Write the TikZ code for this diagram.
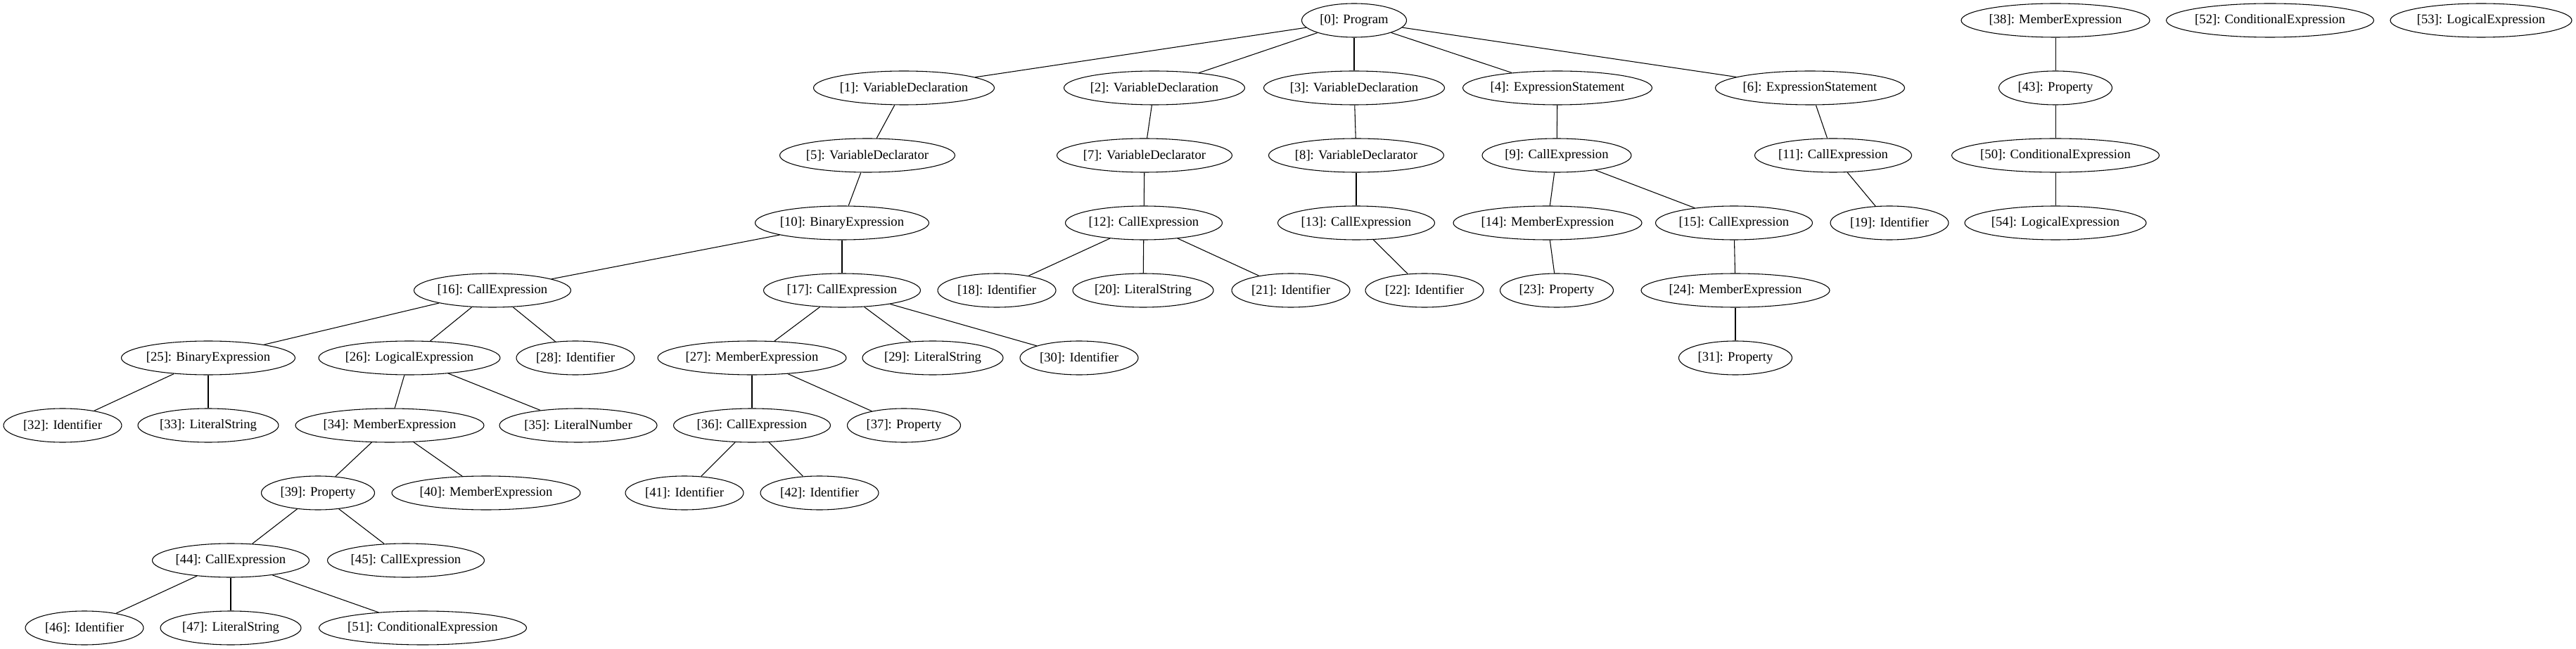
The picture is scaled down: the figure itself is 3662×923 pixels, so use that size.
\documentclass[tikz,border=0pt]{standalone}
\usepackage{fontspec}
\setmainfont{Liberation Serif}
\usetikzlibrary{shapes.geometric}
\begin{document}
\begin{tikzpicture}[x=0.75pt,y=-0.75pt,
  nd/.style={ellipse, draw, line width=0.8pt, minimum height=36pt, inner xsep=-20pt, inner ysep=0pt,
    minimum width=#1*0.75pt, font=\fontsize{14}{16}\selectfont},
  ed/.style={line width=0.8pt}]
\useasboundingbox (0,0) rectangle (3662,923);
% row 0
\node[nd=149] (n0) at (1925,29) {[0]: Program};
\node[nd=268] (n38) at (2922,29) {[38]: MemberExpression};
\node[nd=295] (n52) at (3227,29) {[52]: ConditionalExpression};
\node[nd=258] (n53) at (3527,29) {[53]: LogicalExpression};
% row 1
\node[nd=257] (n1) at (1285,125) {[1]: VariableDeclaration};
\node[nd=257] (n2) at (1641,125) {[2]: VariableDeclaration};
\node[nd=257] (n3) at (1925,125) {[3]: VariableDeclaration};
\node[nd=269] (n4) at (2214,125) {[4]: ExpressionStatement};
\node[nd=269] (n6) at (2573,125) {[6]: ExpressionStatement};
\node[nd=161] (n43) at (2922,125) {[43]: Property};
% row 2
\node[nd=249] (n5) at (1233,221) {[5]: VariableDeclarator};
\node[nd=249] (n7) at (1627,221) {[7]: VariableDeclarator};
\node[nd=249] (n8) at (1928,221) {[8]: VariableDeclarator};
\node[nd=212] (n9) at (2213,221) {[9]: CallExpression};
\node[nd=223] (n11) at (2606,221) {[11]: CallExpression};
\node[nd=295] (n50) at (2922,221) {[50]: ConditionalExpression};
% row 3
\node[nd=247] (n10) at (1197,317) {[10]: BinaryExpression};
\node[nd=223] (n12) at (1626,317) {[12]: CallExpression};
\node[nd=223] (n13) at (1928,317) {[13]: CallExpression};
\node[nd=268] (n14) at (2200,317) {[14]: MemberExpression};
\node[nd=223] (n15) at (2465,317) {[15]: CallExpression};
\node[nd=168] (n19) at (2686,317) {[19]: Identifier};
\node[nd=258] (n54) at (2922,317) {[54]: LogicalExpression};
% row 4
\node[nd=223] (n16) at (700,413) {[16]: CallExpression};
\node[nd=223] (n17) at (1197,413) {[17]: CallExpression};
\node[nd=168] (n18) at (1417,413) {[18]: Identifier};
\node[nd=200] (n20) at (1625,413) {[20]: LiteralString};
\node[nd=168] (n21) at (1835,413) {[21]: Identifier};
\node[nd=168] (n22) at (2025,413) {[22]: Identifier};
\node[nd=161] (n23) at (2213,413) {[23]: Property};
\node[nd=268] (n24) at (2467,413) {[24]: MemberExpression};
% row 5
\node[nd=247] (n25) at (296,509) {[25]: BinaryExpression};
\node[nd=258] (n26) at (582,509) {[26]: LogicalExpression};
\node[nd=168] (n28) at (818,509) {[28]: Identifier};
\node[nd=268] (n27) at (1069,509) {[27]: MemberExpression};
\node[nd=200] (n29) at (1326,509) {[29]: LiteralString};
\node[nd=168] (n30) at (1534,509) {[30]: Identifier};
\node[nd=161] (n31) at (2467,509) {[31]: Property};
% row 6
\node[nd=168] (n32) at (89,605) {[32]: Identifier};
\node[nd=200] (n33) at (296,605) {[33]: LiteralString};
\node[nd=268] (n34) at (554,605) {[34]: MemberExpression};
\node[nd=224] (n35) at (822,605) {[35]: LiteralNumber};
\node[nd=223] (n36) at (1069,605) {[36]: CallExpression};
\node[nd=161] (n37) at (1285,605) {[37]: Property};
% row 7
\node[nd=161] (n39) at (452,701) {[39]: Property};
\node[nd=268] (n40) at (691,701) {[40]: MemberExpression};
\node[nd=168] (n41) at (973,701) {[41]: Identifier};
\node[nd=168] (n42) at (1165,701) {[42]: Identifier};
% row 8
\node[nd=223] (n44) at (328,797) {[44]: CallExpression};
\node[nd=223] (n45) at (577,797) {[45]: CallExpression};
% row 9
\node[nd=168] (n46) at (120,893) {[46]: Identifier};
\node[nd=200] (n47) at (328,893) {[47]: LiteralString};
\node[nd=295] (n51) at (601,893) {[51]: ConditionalExpression};
% edges
\foreach \a/\b in {0/1,0/2,0/3,0/4,0/6,1/5,5/10,10/16,10/17,16/25,16/26,16/28,25/32,25/33,
  26/34,26/35,34/39,34/40,39/44,39/45,44/46,44/47,44/51,17/27,17/29,17/30,27/36,27/37,
  36/41,36/42,2/7,7/12,12/18,12/20,12/21,3/8,8/13,13/22,4/9,9/14,9/15,14/23,15/24,24/31,
  6/11,11/19,38/43,43/50,50/54}
  \draw[ed] (n\a) -- (n\b);
\end{tikzpicture}
\end{document}
